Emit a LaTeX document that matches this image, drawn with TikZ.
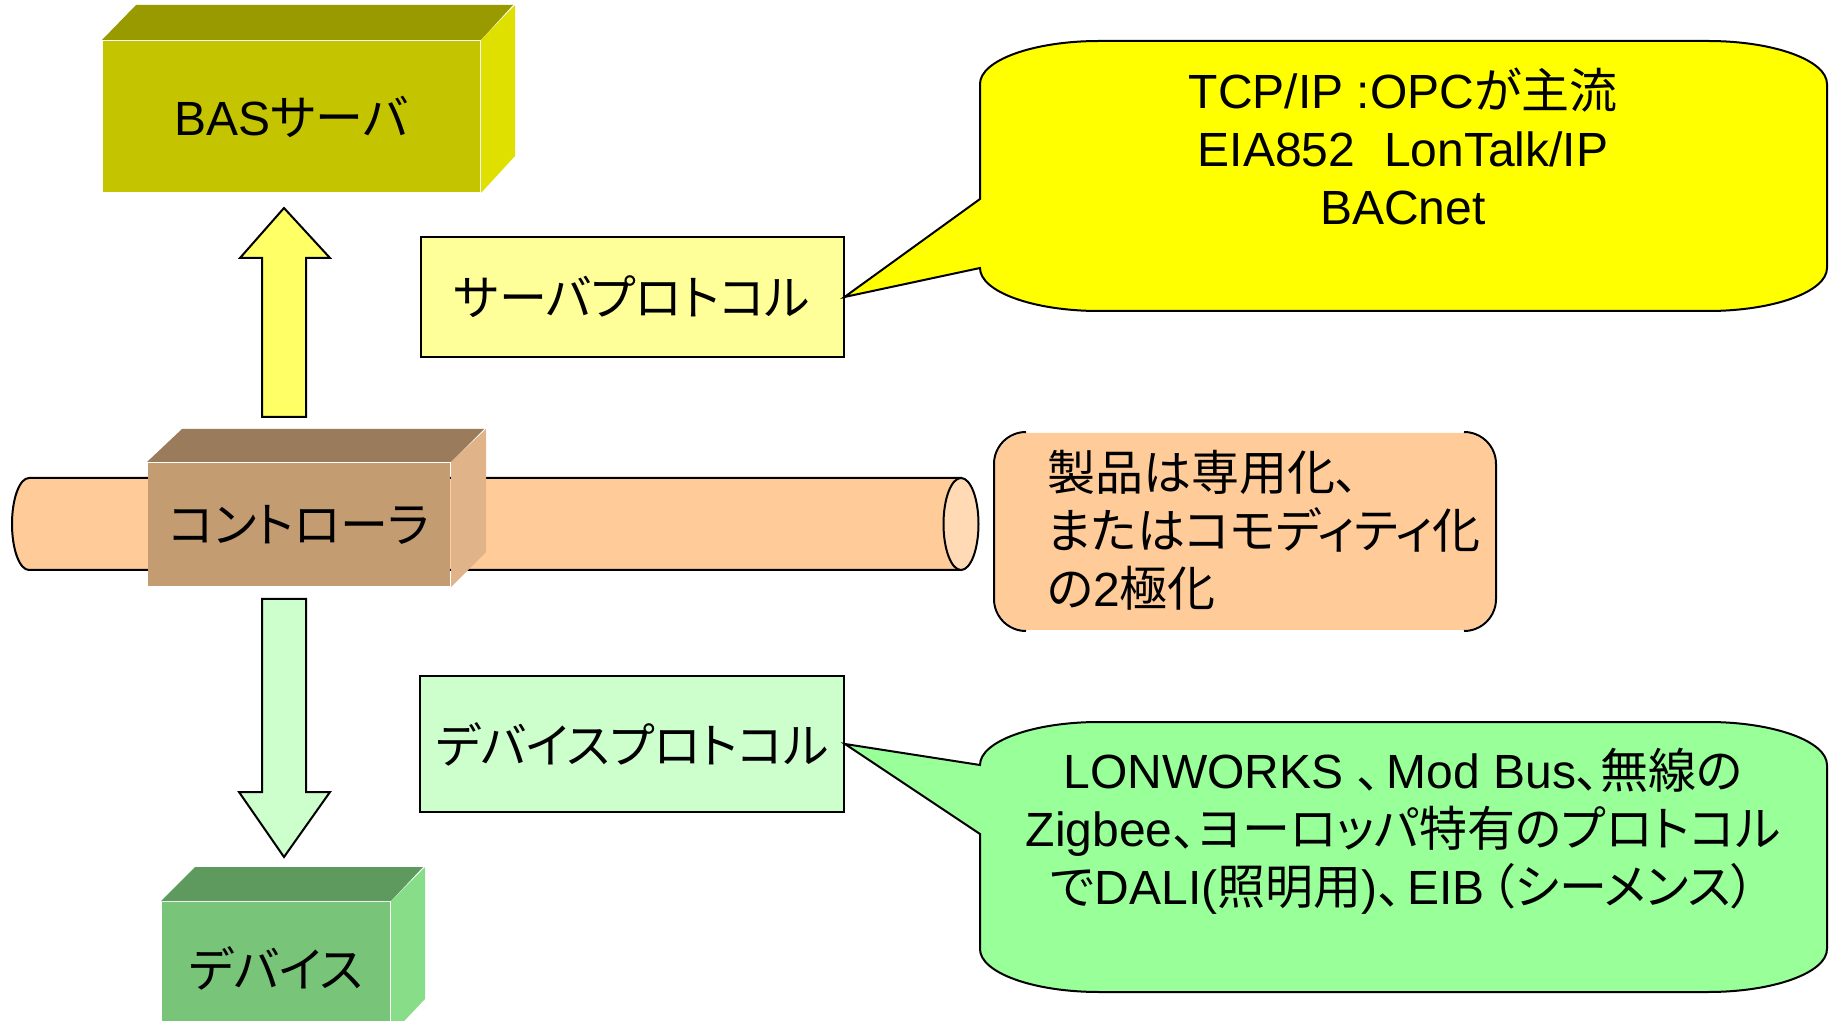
\documentclass[tikz,border=0pt]{standalone}
\usepackage{fontspec}
\setmainfont{Liberation Sans}
\newfontfamily\jpfont[RawFeature=+palt]{Noto Sans CJK JP}
\newcommand\jtext[1]{{\jpfont #1}}
\definecolor{basfront}{RGB}{196,196,0}
\definecolor{bastop}{RGB}{153,153,0}
\definecolor{basside}{RGB}{224,224,0}
\definecolor{ctrlfront}{RGB}{196,156,114}
\definecolor{ctrltop}{RGB}{154,124,93}
\definecolor{ctrlside}{RGB}{224,180,136}
\definecolor{devfront}{RGB}{120,196,120}
\definecolor{devtop}{RGB}{94,153,94}
\definecolor{devside}{RGB}{136,222,136}
\definecolor{pipe}{RGB}{255,204,153}
\definecolor{pipecap}{RGB}{255,218,180}
\definecolor{srvfill}{RGB}{255,255,153}
\definecolor{devfill}{RGB}{204,255,204}
\definecolor{uparrow}{RGB}{255,255,102}
\definecolor{callyellow}{RGB}{255,255,0}
\definecolor{callgreen}{RGB}{153,255,153}

\begin{document}
\begin{tikzpicture}[x=0.5pt,y=-0.5pt,font=\fontsize{24}{29}\selectfont,line width=1pt]
      \clip (0,0) rectangle (1833,1021);

      % the pipe behind the controller
      \filldraw[fill=pipe]
      (29,478)--(961,478)--(961,570)--(29,570)
      .. controls (19.6,570) and (12,549.4) .. (12,524)
      .. controls (12,498.6) and (19.6,478) .. (29,478);
      \filldraw[fill=pipecap] (961,524) ellipse [x radius=8.75pt, y radius=23pt];

      % three boxes
      \node at(291.5,116.5) [fill=basfront, minimum width=188.5pt, minimum height=75.5pt, inner sep=0pt] (bas) {BAS\jtext{サーバ}};
      \fill[bastop] (bas.north west)--++(34,-35)--++(377,0)--(bas.north east)--cycle;
      \fill[basside] (bas.north east)--++(34,-35)--++(0,151)--(bas.south east)--cycle;

      \node at(299,524.5) [fill=ctrlfront, minimum width=151pt, minimum height=61.5pt, inner sep=0pt] (ctrl) {\jtext{コントローラ}};
      \fill[ctrltop] (ctrl.north west)--++(35,-33)--++(302,0)--(ctrl.north east)--cycle;
      \fill[ctrlside] (ctrl.north east)--++(35,-33)--++(0,123)--(ctrl.south east)--cycle;

      \node at(276,968) [fill=devfront, minimum width=114pt, minimum height=66pt, inner sep=0pt] (dev) {\jtext{デバイス}};
      \fill[devtop] (dev.north west)--++(34,-34)--++(228,0)--(dev.north east)--cycle;
      \fill[devside] (dev.north east)--++(34,-34)--++(0,132)--(dev.south east)--cycle;

      % block arrows
      \filldraw[fill=uparrow]
      (262,417)--(262,258)--(240,258)--(284,208)--(330,258)--(306,258)--(306,417)--cycle;
      \filldraw[fill=devfill]
      (262,599)--(306,599)--(306,792)--(330,792)--(284,857)--(239,792)--(262,792)--cycle;

      % protocol boxes
      \node at(632,297) [draw, fill=srvfill, minimum width=211.5pt, minimum height=60pt, inner sep=0pt] (srvproto) {\jtext{サーバプロトコル}};
      \node at(632,744) [draw, fill=devfill, minimum width=212pt, minimum height=68pt, inner sep=0pt] (devproto) {\jtext{デバイスプロトコル}};

      % callouts
      \filldraw[fill=callyellow]
      (980,199)--(srvproto.east)--(980,268)
      .. controls (980,291.7) and (1033.3,311) .. (1099,311)--(1708,311)
      .. controls (1773.7,311) and (1827,291.7) .. (1827,268)--(1827,84)
      .. controls (1827,60.3) and (1773.7,41) .. (1708,41)--(1099,41)
      .. controls (1033.3,41) and (980,60.3) .. (980,84)--cycle;
      \node at(1403,146) [align=center, inner sep=0pt] (srvtext)
      {TCP/IP :OPC\jtext{が主流}\\EIA852\hspace{0.6em}LonTalk/IP\\BACnet};

      \filldraw[fill=callgreen]
      (980,765)--(devproto.east)--(980,834)--(980,949)
      .. controls (980,972.7) and (1033.3,992) .. (1099,992)--(1708,992)
      .. controls (1773.7,992) and (1827,972.7) .. (1827,949)--(1827,765)
      .. controls (1827,741.3) and (1773.7,722) .. (1708,722)--(1099,722)
      .. controls (1033.3,722) and (980,741.3) .. (980,765)--cycle;
      \node at(1403,831) [align=center, inner sep=0pt] (devtext)
      {LONWORKS \jtext{、}\hspace{3pt}Mod Bus\jtext{、無線の}\\Zigbee\jtext{、ヨーロッパ特有のプロトコル}\\\jtext{で}DALI(\jtext{照明用})\jtext{、}\hspace{3pt}EIB\hspace{3pt}\jtext{（シーメンス）}};

      % double bracket box
      \node at(1245,531.5) [fill=pipe, rounded corners=16pt, minimum width=250pt, minimum height=98.5pt] (market) {};
      \draw[rounded corners=16pt] ([xshift=16pt]market.north west)--(market.north west)--(market.south west)--([xshift=16pt]market.south west);
      \draw[rounded corners=16pt] ([xshift=-16pt]market.north east)--(market.north east)--(market.south east)--([xshift=-16pt]market.south east);
      \node at(1046,530) [anchor=west, align=left, inner sep=0pt] (markettext)
      {\jtext{製品は専用化、}\\\jtext{またはコモディティ化}\\\jtext{の}2\jtext{極化}};
\end{tikzpicture}
\end{document}
